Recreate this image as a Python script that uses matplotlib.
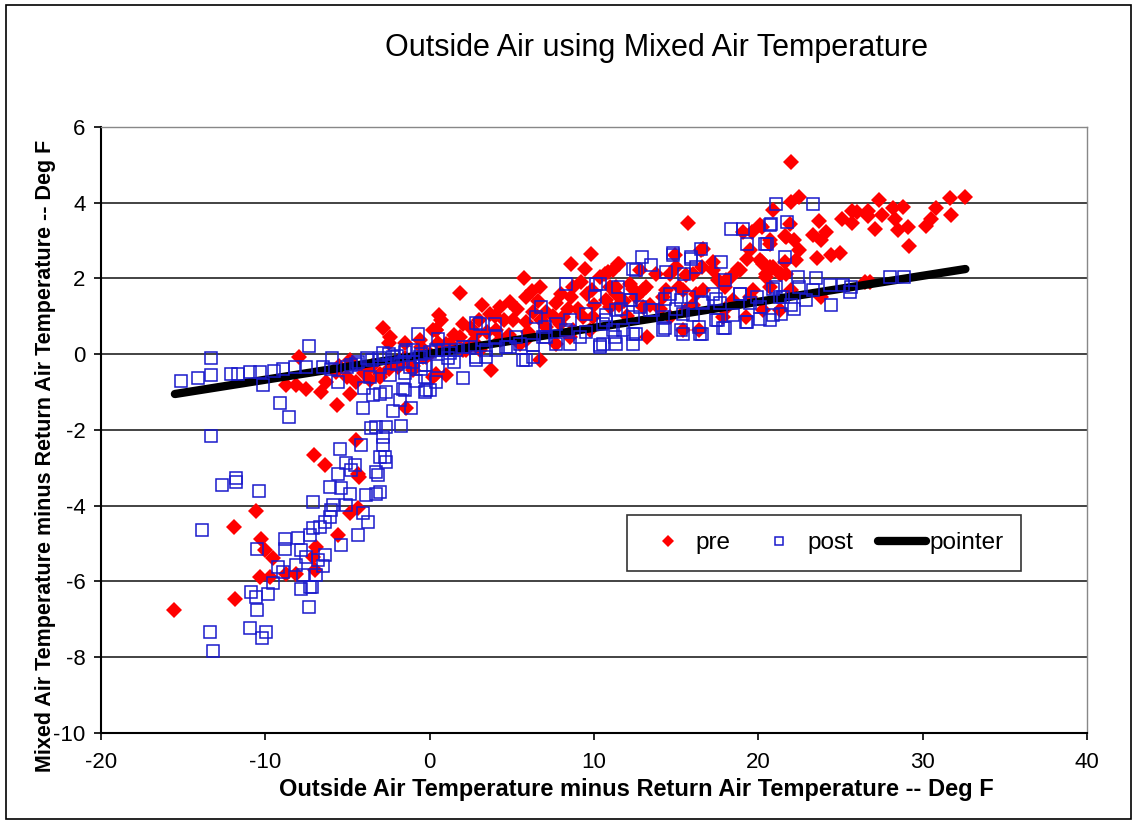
import numpy as np
import matplotlib.pyplot as plt
from matplotlib.patches import Rectangle

plt.rcParams['font.family'] = ['Liberation Sans', 'DejaVu Sans']
plt.rcParams['axes.unicode_minus'] = False

# scatter data: (OAT - RAT, MAT - RAT) in deg F
pre_points = [
    (22.0, 5.07), (22.5, 4.15), (22.0, 4.02), (27.35, 4.08), (31.65, 4.12), (32.6, 4.15),
    (25.7, 3.78), (26.0, 3.76), (26.65, 3.78), (25.1, 3.56), (25.7, 3.46), (26.7, 3.64),
    (27.5, 3.67), (28.2, 3.85), (28.8, 3.89), (28.3, 3.56), (28.5, 3.27), (29.1, 3.36),
    (30.8, 3.85), (30.5, 3.56), (30.2, 3.38), (31.75, 3.67), (27.1, 3.30), (29.15, 2.85),
    (23.7, 3.52), (24.1, 3.23), (23.3, 3.14), (23.8, 3.01), (22.5, 2.74), (21.7, 3.09),
    (22.2, 3.01), (23.6, 2.53), (24.45, 2.61), (24.95, 2.66), (22.3, 2.48), (21.6, 2.44),
    (21.4, 2.13), (23.8, 1.51), (26.5, 1.91), (26.8, 1.91), (20.2, 3.36), (21.6, 3.11),
    (20.45, 2.04), (20.7, 2.30), (20.2, 2.44),
    (15.7, 3.46), (20.9, 3.80), (20.1, 3.40), (19.05, 3.23), (19.6, 3.23), (20.7, 2.92),
    (19.3, 2.52), (20.1, 2.48), (20.9, 2.30), (21.7, 2.13), (18.75, 2.26), (18.35, 2.04),
    (16.5, 2.74), (16.6, 2.30), (15.6, 2.08), (17.25, 2.22), (15.0, 2.30), (11.55, 2.39),
    (10.85, 2.17), (12.8, 2.22), (13.8, 2.13), (12.4, 1.73), (13.0, 1.69), (11.35, 1.78),
    (14.4, 1.69), (15.2, 1.78), (16.2, 1.60), (17.95, 1.78), (19.7, 1.69), (20.7, 1.78),
    (13.4, 1.29), (11.55, 1.29), (14.6, 0.98), (15.6, 1.16), (13.2, 0.46), (16.4, 0.63),
    (17.55, 1.95), (18.45, 1.42), (21.9, 3.45),
    (1.83, 1.62), (0.57, 1.03), (0.37, 0.65), (-0.61, 0.37), (5.72, 2.0), (6.25, 1.67),
    (4.91, 1.38), (4.26, 1.25), (3.65, 1.07), (5.07, 0.90), (8.62, 2.39), (9.43, 2.26),
    (9.84, 2.64), (9.23, 1.91), (8.62, 1.51), (7.71, 1.34), (7.10, 1.12), (6.29, 1.12),
    (5.88, 0.85), (10.35, 2.04), (10.96, 1.78), (10.75, 1.42), (9.94, 0.98), (7.91, 0.81),
    (2.84, 0.54), (1.83, 0.46), (1.22, 0.28), (3.75, -0.42), (0.20, -0.60), (1.01, -0.55),
    (6.70, -0.16), (-1.63, -0.16), (-1.02, -0.42), (5.48, 0.28), (4.26, 0.37), (-0.2, -0.07),
    (2.23, 0.11), (3.04, 0.11), (8.72, 0.63), (11.16, 2.22),
    (14.91, 2.61), (16.63, 2.79), (16.03, 2.13), (14.6, 2.13), (17.24, 2.44), (19.48, 2.74),
    (20.29, 2.39), (20.69, 3.01), (18.06, 1.95), (18.87, 2.22), (20.49, 2.13), (21.3, 2.13),
    (8.72, 1.78), (6.70, 1.78), (5.88, 1.51), (11.36, 1.60), (12.58, 1.51), (14.2, 1.51),
    (15.42, 1.69), (16.63, 1.69), (10.96, 1.25), (12.98, 1.25), (8.11, 0.98), (9.33, 0.98),
    (7.10, 0.72), (5.88, 0.37), (1.01, 0.28), (2.03, 0.11), (2.84, 0.28), (4.06, 0.63),
    (7.71, 0.28), (8.52, 0.46), (9.74, 0.63), (15.42, 0.63), (17.85, 0.98), (19.28, 0.98),
    (20.29, 1.16), (21.3, 1.16), (12.17, 1.86), (13.19, 1.78), (11.46, 2.39), (10.65, 2.13),
    (0.71, 0.90), (0.41, 0.63),
    (-2.84, 0.68), (-2.43, 0.46), (-7.95, -0.07), (-8.72, -0.82), (-8.11, -0.82), (-7.50, -0.91),
    (-6.59, -0.99), (-6.29, -0.73), (-5.68, -0.47), (-5.62, -1.35), (-4.87, -1.04), (-4.46, -0.73),
    (-3.65, -0.69), (-3.04, -0.51), (-1.93, -0.33), (-0.41, -0.07), (-1.42, -1.41), (-4.46, -2.27),
    (-7.04, -2.66), (-6.39, -2.93), (-4.36, -3.15), (-4.87, -0.16), (-3.96, -0.42), (0.2, 0.63),
    (0.41, -0.51),
    (-4.30, -3.24), (-10.55, -4.13), (-11.91, -4.56), (-10.24, -4.87), (-10.04, -5.17),
    (-9.54, -5.39), (-10.35, -5.88), (-9.74, -5.88), (-8.72, -5.79), (-8.11, -5.79),
    (-11.87, -6.45), (-15.58, -6.74), (-7.10, -5.35), (-7.0, -5.70), (-6.9, -5.08),
    (-5.58, -4.78), (-4.87, -4.20), (-4.36, -4.07),
    (-3.5, -0.3), (-2.5, -0.4), (-2.0, -0.2), (-1.5, -0.1), (-1.0, -0.3), (-0.5, 0.2),
    (0.0, 0.0), (0.5, 0.3), (-2.5, 0.3), (-1.5, 0.3), (-3.0, -0.6), (-4.0, -0.5),
    (-5.0, -0.6), (-5.5, -0.3), (1.5, 0.5), (2.5, 0.7), (3.5, 0.6), (4.5, 0.9),
    (3.0, 0.9), (2.0, 0.8), (6.0, 0.6), (7.5, 1.0), (9.0, 1.2), (10.0, 1.3),
    (12.0, 1.0), (14.0, 1.2), (16.0, 1.3), (18.0, 1.2), (19.5, 1.5), (22.0, 1.7),
    (3.2, 1.3), (4.0, 1.0), (5.3, 1.2), (6.6, 1.4), (8.0, 1.6), (9.6, 1.6),
    (2.6, 0.3), (4.8, 0.5), (6.8, 0.9), (8.4, 1.2), (9.9, 1.7), (11.8, 1.4),
]

post_points = [
    (23.3, 3.96), (21.75, 3.49), (21.6, 2.57), (22.4, 2.04), (23.5, 2.0), (28.0, 2.04),
    (28.85, 2.04), (24.35, 1.82), (25.15, 1.82), (25.65, 1.78), (22.5, 1.78), (23.3, 1.69),
    (22.9, 1.42), (24.45, 1.29), (22.0, 1.29), (25.55, 1.64), (21.4, 1.07), (22.2, 1.2),
    (21.05, 3.97), (20.7, 3.40), (20.4, 2.92),
    (18.35, 3.31), (19.05, 3.31), (20.8, 3.45), (19.3, 2.92), (20.5, 2.92), (16.5, 2.79),
    (15.9, 2.52), (16.2, 2.30), (14.8, 2.66), (13.5, 2.35), (14.4, 2.17), (12.9, 2.57),
    (12.4, 2.26), (17.75, 2.44), (15.5, 2.13), (17.95, 1.95), (11.45, 1.78), (10.35, 1.86),
    (18.9, 1.60), (19.9, 1.51), (21.1, 1.78), (21.5, 1.51), (17.45, 1.47), (16.6, 1.38),
    (15.8, 1.51), (15.3, 1.42), (14.3, 1.47), (12.2, 1.42), (12.8, 1.25), (11.65, 1.20),
    (10.75, 1.03), (15.0, 1.20), (16.0, 1.03), (17.55, 0.90), (18.45, 1.03), (19.3, 0.85),
    (20.1, 0.94), (20.9, 1.03), (17.95, 0.68), (14.3, 0.68), (15.3, 0.63), (16.4, 0.72),
    (16.55, 0.54), (12.4, 0.54), (11.25, 0.46), (12.4, 0.28), (10.55, 0.28), (13.6, 1.16),
    (8.32, 1.86), (10.15, 1.86), (6.8, 1.25), (3.96, 0.81), (2.80, 0.83), (-0.71, 0.54),
    (2.84, -0.16), (5.68, -0.16), (2.03, -0.64), (0.41, -0.73), (-0.2, -0.95), (-1.52, -0.95),
    (7.0, 0.72), (9.54, 1.07), (10.75, 0.90), (8.32, 0.63), (9.13, 0.46), (10.35, 0.24),
    (7.71, 0.28), (6.29, 0.24), (4.87, 0.19), (4.06, 0.11), (3.45, -0.07), (2.03, 0.19),
    (1.22, 0.02), (0.41, 0.11), (-0.61, -0.07), (-1.42, 0.11), (-1.22, -0.33), (6.9, 0.46),
    (5.28, 0.46), (3.24, 0.37), (11.16, 0.63),
    (14.81, 2.61), (15.93, 2.57), (12.58, 2.22), (12.27, 1.42), (14.6, 1.60), (17.24, 1.60),
    (18.87, 1.60), (20.9, 1.73), (21.3, 1.51), (19.48, 1.34), (20.09, 1.25), (17.65, 1.34),
    (16.63, 1.34), (13.39, 1.16), (11.36, 1.16), (8.52, 0.90), (7.71, 0.81), (6.49, 0.98),
    (10.55, 0.81), (12.37, 0.98), (14.2, 0.98), (15.42, 1.07), (17.45, 0.90), (19.28, 0.85),
    (20.69, 0.90), (14.2, 0.63), (15.42, 0.54), (16.43, 0.54), (17.85, 0.68), (11.77, 0.63),
    (12.58, 0.54), (9.54, 0.59), (11.36, 0.28), (10.35, 0.19), (8.52, 0.28), (7.10, 0.46),
    (5.48, 0.28), (4.67, 0.19), (3.45, 0.11), (2.43, 0.19), (1.62, 0.11), (0.81, 0.11),
    (0.0, -0.95), (5.88, -0.16), (6.29, -0.07), (2.84, -0.07), (1.12, -0.11), (3.04, 0.81),
    (4.06, 0.46), (10.04, 1.51),
    (-15.15, -0.71), (-14.1, -0.64), (-13.3, -0.55), (-13.33, -0.09), (-12.07, -0.53),
    (-11.67, -0.51), (-10.96, -0.47), (-10.35, -0.47), (-10.15, -0.82), (-8.93, -0.38),
    (-8.22, -0.33), (-7.50, -0.33), (-7.35, 0.21), (-6.49, -0.33), (-5.92, -0.11),
    (-9.13, -1.30), (-8.58, -1.65), (-5.58, -0.73), (-4.36, -0.20), (-4.77, -0.29),
    (-2.84, 0.02), (-2.23, -0.07), (-1.63, -0.20), (-0.3, -0.29), (-4.06, -1.43),
    (-3.04, -1.04), (-2.64, -0.99), (-0.30, -0.99), (-1.11, -1.43), (-3.24, -1.92),
    (-2.64, -1.92), (-1.72, -1.90), (-3.55, -1.96), (-2.84, -2.18), (-2.84, -2.40),
    (-13.3, -2.16), (-5.48, -2.49), (-4.16, -2.40), (-3.04, -2.71), (-2.74, -2.71),
    (-5.07, -2.88), (-4.56, -2.93), (-3.24, -3.10), (-11.77, -3.28), (-3.45, -1.08),
    (-1.63, -0.91),
    (-12.62, -3.46), (-11.81, -3.37), (-10.39, -3.61), (-13.86, -4.64), (-13.35, -7.33),
    (-13.19, -7.83), (-10.96, -7.24), (-9.94, -7.33), (-10.2, -7.50), (-10.5, -6.75),
    (-10.9, -6.27), (-9.84, -6.32), (-10.59, -6.42), (-7.35, -6.67), (-7.81, -6.19),
    (-7.14, -6.14), (-9.54, -6.03), (-10.51, -5.13), (-8.83, -4.89), (-8.83, -5.13),
    (-7.81, -5.17), (-8.02, -4.84), (-9.23, -5.61), (-8.93, -5.74), (-8.11, -5.57),
    (-7.71, -5.83), (-6.90, -5.83), (-7.50, -5.35), (-7.30, -4.78), (-7.10, -4.60),
    (-6.70, -4.56), (-6.39, -4.43), (-6.09, -4.29), (-6.39, -5.30), (-6.49, -5.59),
    (-6.8, -5.44), (-7.10, -3.90), (-6.09, -3.50), (-5.38, -3.54), (-5.88, -3.98),
    (-5.07, -3.98), (-4.87, -3.68), (-4.36, -4.78), (-5.38, -5.04), (-7.30, -6.14),
    (-4.06, -4.20), (-3.85, -3.72), (-3.24, -3.68), (-3.04, -3.63), (-3.75, -4.43),
    (-3.14, -3.19), (-4.77, -3.06), (-2.64, -2.84), (-5.58, -3.15), (-5.98, -4.12),
    (-4.5, -0.25), (-3.5, -0.15), (-3.0, -0.1), (-2.5, 0.0), (-2.0, -0.05), (-1.5, 0.05),
    (-1.0, 0.1), (-0.5, 0.0), (0.0, 0.05), (-1.0, -0.2), (-2.0, -0.25), (-3.0, -0.35),
    (-0.5, -0.4), (0.5, -0.3), (-1.5, -0.5), (-9.5, -0.45), (-6.0, -0.4), (-5.0, -0.35),
    (-3.8, -0.1), (1.5, -0.2), (0.5, 0.4), (-0.3, -0.6), (-1.8, -1.2), (-2.2, -1.5),
    (-0.8, -0.7), (-2.4, -0.55), (-3.6, -0.6), (-4.0, -0.9),
]

pointer_x = [-15.5, 32.6]
pointer_y = [-1.05, 2.25]

pre_x, pre_y = zip(*pre_points)
post_x, post_y = zip(*post_points)

fig = plt.figure(figsize=(11.37, 8.22), dpi=100)
ax = fig.add_axes([0.0888, 0.1083, 0.8672, 0.7372])

ax.plot(pre_x, pre_y, linestyle='none', marker='D', markersize=8.5,
        color='#ff0000', markeredgewidth=0, label='pre', zorder=3)
ax.plot(post_x, post_y, linestyle='none', marker='s', markersize=8.5,
        markerfacecolor='none', markeredgecolor='#1a1acc', markeredgewidth=1.1,
        label='post', zorder=4)
ax.plot(pointer_x, pointer_y, color='black', linewidth=6, solid_capstyle='round',
        label='pointer', zorder=3.5)

ax.set_xlim(-20, 40)
ax.set_ylim(-10, 6)
ax.set_xticks(np.arange(-20, 41, 10))
ax.set_yticks(np.arange(-10, 7, 2))
ax.grid(axis='y', color='#222222', linewidth=1.2)
ax.set_axisbelow(True)

for s in ['left', 'bottom']:
    ax.spines[s].set_color('black')
    ax.spines[s].set_linewidth(1.5)
for s in ['top', 'right']:
    ax.spines[s].set_color('#888888')
    ax.spines[s].set_linewidth(1.0)

ax.tick_params(axis='both', direction='out', length=5, width=1.2, labelsize=16)
ax.tick_params(axis='x', pad=9)
ax.tick_params(axis='y', pad=6)

fig.text(0.577, 0.942, 'Outside Air using Mixed Air Temperature',
         ha='center', va='center', fontsize=22)
fig.text(0.56, 0.039, 'Outside Air Temperature minus Return Air Temperature -- Deg F',
         ha='center', va='center', fontsize=17, fontweight='bold')
fig.text(0.04, 0.446, 'Mixed Air Temperature minus Return Air Temperature -- Deg F',
         ha='center', va='center', fontsize=15.5, fontweight='bold', rotation=90)

leg = ax.legend(loc='lower left', bbox_to_anchor=(0.533, 0.267), ncol=3,
                fontsize=17.5, frameon=True, fancybox=False, edgecolor='black',
                handlelength=2.0, columnspacing=1.0, handletextpad=0.15,
                borderpad=0.7, borderaxespad=0, markerscale=0.7)
leg.get_frame().set_linewidth(1.2)

fig.patches.append(Rectangle((0.005, 0.004), 0.99, 0.99, transform=fig.transFigure,
                             fill=False, edgecolor='black', linewidth=1.2))

fig.savefig('out.png', dpi=100)
